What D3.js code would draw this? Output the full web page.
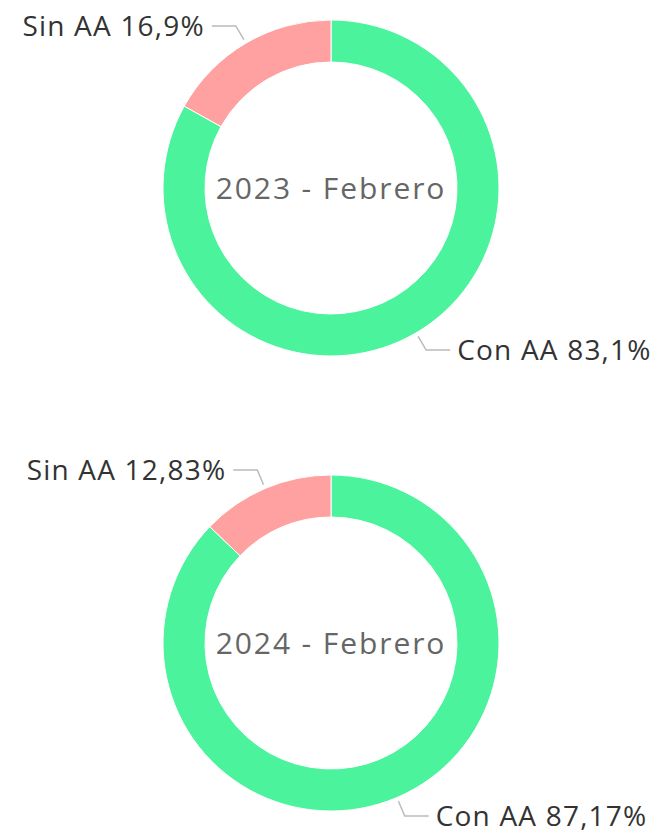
<!DOCTYPE html>
<html>
<head>
<meta charset="utf-8">
<script src="https://cdn.jsdelivr.net/npm/d3@7"></script>
<style>
  html, body { margin: 0; padding: 0; background: #fff; }
  text { font-family: "Open Sans", sans-serif; }
</style>
</head>
<body>
<div id="chart"></div>
<script>
// data
const titles = ['2023 - Febrero', '2024 - Febrero'];
const categories = ['Con AA', 'Sin AA'];
const values2023 = [83.1, 16.9];
const values2024 = [87.17, 12.83];
const colors = ['#4bf39d', '#ffa1a0'];

var width = 657,
  height = 834,
  outer = 168,
  inner = 126,
  centers = [[331, 188], [331, 643]],
  series = [values2023, values2024];

var svg = d3.select('#chart')
  .append('svg')
  .attr('width', width)
  .attr('height', height);

var color = d3.scaleOrdinal().domain(categories).range(colors);

var pie = d3.pie()
  .sort(null)
  .value(d => d.value);

var arc = d3.arc().innerRadius(inner).outerRadius(outer);

function fmt(v) {
  return String(v).replace('.', ',') + '%';
}

series.forEach(function(values, k) {
  var data = categories.map((c, i) => ({ name: c, value: values[i] }));
  var g = svg.append('g')
    .attr('transform', 'translate(' + centers[k][0] + ',' + centers[k][1] + ')');

  var slices = pie(data);

  g.selectAll('path')
    .data(slices)
    .enter()
    .append('path')
    .attr('d', arc)
    .style('fill', d => color(d.data.name))
    .style('stroke', '#fff')
    .style('stroke-width', 1);

  g.append('text')
    .attr('text-anchor', 'middle')
    .attr('dy', '0.36em')
    .style('font-size', '30px')
    .style('letter-spacing', '1.9px')
    .style('fill', '#666')
    .text(titles[k]);

  // labels with elbow lines
  slices.forEach(function(d) {
    var a = (d.startAngle + d.endAngle) / 2,
      side = Math.sin(a) >= 0 ? 1 : -1,
      p0 = [Math.sin(a) * (outer + 4), -Math.cos(a) * (outer + 4)],
      p1 = [Math.sin(a) * (outer + 20), -Math.cos(a) * (outer + 20)],
      p2 = [p1[0] + side * 24, p1[1]];

    g.append('polyline')
      .attr('points', [p0, p1, p2].map(p => p.join(',')).join(' '))
      .style('fill', 'none')
      .style('stroke', '#bbb')
      .style('stroke-width', 1.5);

    g.append('text')
      .attr('x', p2[0] + side * 7)
      .attr('y', p2[1])
      .attr('dy', '0.36em')
      .attr('text-anchor', side > 0 ? 'start' : 'end')
      .style('font-size', '28px')
      .style('letter-spacing', '1.2px')
      .style('fill', '#333')
      .text(d.data.name + ' ' + fmt(d.data.value));
  });
});
</script>
</body>
</html>
